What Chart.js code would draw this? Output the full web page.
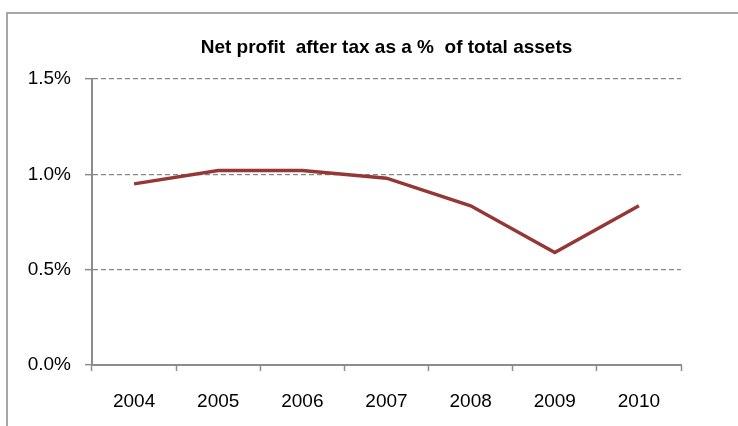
<!DOCTYPE html>
<html>
<head>
<meta charset="utf-8">
<title>Net profit after tax as a % of total assets</title>
<script src="https://cdn.jsdelivr.net/npm/chart.js@4.4.1/dist/chart.umd.min.js"></script>
<style>
    html, body { margin: 0; padding: 0; background: #ffffff; }
    #wrap { position: relative; width: 738px; height: 426px; }
</style>
</head>
<body>
<div id="wrap"><canvas id="profitChart" width="738" height="426"></canvas></div>
<script>
"use strict";

const years = ["2004", "2005", "2006", "2007", "2008", "2009", "2010"];
const profitOnAssets = [0.95, 1.02, 1.02, 0.98, 0.835, 0.59, 0.835];
const yTicks = [0, 0.5, 1.0, 1.5];
const chartTitle = "Net profit  after tax as a %  of total assets";

const ctxProfit = document.getElementById("profitChart");
const axisGray = "#8c8c8c";

// outer frame of the chart box and the bold title above the plot
const frameAndTitle = {
    id: "frameAndTitle",
    beforeDraw(chart) {
        const ctx = chart.ctx;
        ctx.save();
        ctx.strokeStyle = "#a6a6a6";
        ctx.lineWidth = 2;
        ctx.beginPath();
        ctx.moveTo(7, chart.height);
        ctx.lineTo(7, 13);
        ctx.lineTo(chart.width, 13);
        ctx.stroke();
        ctx.restore();
    },
    afterDraw(chart) {
        const ctx = chart.ctx;
        const area = chart.chartArea;
        ctx.save();
        ctx.fillStyle = "#000000";
        ctx.font = "bold 19px 'Liberation Sans', Arial, sans-serif";
        ctx.textAlign = "center";
        ctx.textBaseline = "middle";
        ctx.fillText(chartTitle, (area.left + area.right) / 2, 48);
        ctx.restore();
    },
};

let profitChart = new Chart(ctxProfit, {
    type: "line",
    data: {
        labels: years,
        datasets: [
            {
                label: chartTitle,
                data: profitOnAssets,
                borderColor: "#953735",
                borderWidth: 3.5,
                pointRadius: 0,
                tension: 0,
                fill: false,
            },
        ],
    },
    options: {
        responsive: false,
        animation: false,
        devicePixelRatio: 1,
        layout: {
            padding: { top: 79, right: 57, bottom: 0, left: 26 },
        },
        plugins: {
            legend: { display: false },
            title: { display: false },
            tooltip: { enabled: false },
        },
        scales: {
            x: {
                offset: true,
                afterFit: (scale) => {
                    scale.height = 61;
                },
                border: { color: axisGray, width: 2 },
                grid: {
                    offset: true,
                    drawOnChartArea: false,
                    drawTicks: true,
                    tickLength: 6,
                    tickColor: axisGray,
                    tickWidth: 1.5,
                },
                ticks: {
                    color: "#000000",
                    padding: 19,
                    maxRotation: 0,
                    font: { family: "'Liberation Sans', Arial, sans-serif", size: 19 },
                },
            },
            y: {
                min: 0,
                max: 1.5,
                afterFit: (scale) => {
                    scale.width = 66;
                },
                afterBuildTicks: (scale) => {
                    scale.ticks = yTicks.map((v) => ({ value: v }));
                },
                border: { color: axisGray, width: 2, dash: [5, 3] },
                grid: {
                    color: (c) => (c.tick && c.tick.value === 0 ? "rgba(0,0,0,0)" : "#888888"),
                    lineWidth: 1.3,
                    drawTicks: true,
                    tickLength: 7,
                    tickColor: axisGray,
                    tickWidth: 1.5,
                    tickBorderDash: [],
                },
                ticks: {
                    color: "#000000",
                    padding: 14,
                    font: { family: "'Liberation Sans', Arial, sans-serif", size: 19 },
                    callback: (v) => Number(v).toFixed(1) + "%",
                },
            },
        },
    },
    plugins: [frameAndTitle],
});
</script>
</body>
</html>
